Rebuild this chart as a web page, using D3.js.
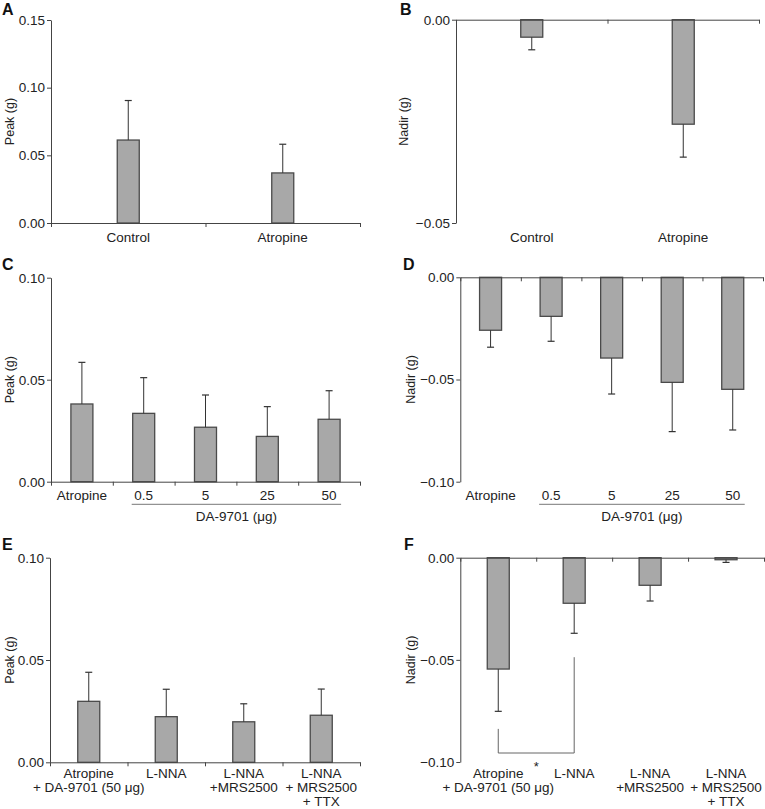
<!DOCTYPE html>
<html>
<head>
<meta charset="utf-8">
<script src="https://cdn.jsdelivr.net/npm/d3@7/dist/d3.min.js"></script>
<style>
  body { margin: 0; background: #fff; }
  svg { display: block; font-family: "Liberation Sans", Arial, sans-serif; }
</style>
</head>
<body>
<svg id="chart" width="765" height="809"></svg>
<script>
// ---- data ----
var catsAB = ['Control', 'Atropine'];
var peakA = [0.0613, 0.0370];
var semA = [0.0292, 0.0212];
var nadirB = [-0.0043, -0.0257];
var semB = [0.0031, 0.0081];

var catsCD = ['Atropine', '0.5', '5', '25', '50'];
var peakC = [0.0381, 0.0335, 0.0267, 0.0222, 0.0306];
var semC = [0.0204, 0.0175, 0.0158, 0.0146, 0.0140];
var nadirD = [-0.0259, -0.0191, -0.0395, -0.0514, -0.0548];
var semD = [0.0083, 0.0122, 0.0176, 0.0241, 0.0199];
var groupCD = 'DA-9701 (\u03bcg)';

var catsEF = [
    ['Atropine', '+ DA-9701 (50 \u03bcg)'],
    ['L-NNA'],
    ['L-NNA', '+MRS2500'],
    ['L-NNA', '+ MRS2500', '+ TTX']
];
var peakE = [0.0298, 0.0223, 0.0198, 0.0230];
var semE = [0.0142, 0.0134, 0.0088, 0.0128];
var nadirF = [-0.0545, -0.0223, -0.0135, -0.0010];
var semF = [0.0207, 0.0147, 0.0077, 0.0013];
// significance bracket in F: left end, base, right end (g)
var bracketF = [-0.0838, -0.0956, -0.0487];

var ticksPeakA = [0, 0.05, 0.10, 0.15];
var ticksNadirB = [0, -0.05];
var ticksPeak = [0, 0.05, 0.10];
var ticksNadir = [0, -0.05, -0.10];

// ---- panel layout ----
var panels = [
    { letter: 'A', lx: 2, ly: 14.5, x0: 51, x1: 360, yTop: 20, yBot: 223, dom: [0, 0.15], ticks: ticksPeakA,
      cats: catsAB, vals: peakA, sem: semA, ylab: 'Peak (g)', ylx: 14, labY: 242 },
    { letter: 'B', lx: 400, ly: 14.5, x0: 456, x1: 759, yTop: 19.7, yBot: 223, dom: [-0.05, 0], ticks: ticksNadirB,
      cats: catsAB, vals: nadirB, sem: semB, ylab: 'Nadir (g)', ylx: 408, labY: 242 },
    { letter: 'C', lx: 2, ly: 270, x0: 51, x1: 360, yTop: 277.7, yBot: 481.7, dom: [0, 0.10], ticks: ticksPeak,
      cats: catsCD, vals: peakC, sem: semC, ylab: 'Peak (g)', ylx: 14, labY: 500, group: true },
    { letter: 'D', lx: 403, ly: 270, x0: 460.3, x1: 763, yTop: 277.3, yBot: 481.7, dom: [-0.10, 0], ticks: ticksNadir,
      cats: catsCD, vals: nadirD, sem: semD, ylab: 'Nadir (g)', ylx: 415, labY: 500, group: true },
    { letter: 'E', lx: 2, ly: 550, x0: 50, x1: 360, yTop: 557.7, yBot: 762.3, dom: [0, 0.10], ticks: ticksPeak,
      cats: catsEF, vals: peakE, sem: semE, ylab: 'Peak (g)', ylx: 14, labY: 777.5 },
    { letter: 'F', lx: 404, ly: 550, x0: 460.3, x1: 764, yTop: 557.7, yBot: 762, dom: [-0.10, 0], ticks: ticksNadir,
      cats: catsEF, vals: nadirF, sem: semF, ylab: 'Nadir (g)', ylx: 415, labY: 777.5, bracket: bracketF }
];

var svg = d3.select('#chart');
var barW = 22;
var axisColor = '#444';
var fontSize = '13.5px';

panels.forEach(function(p) {
    var g = svg.append('g');
    var n = p.cats.length;

    var y = d3.scaleLinear().domain(p.dom).range([p.yBot, p.yTop]);
    var x = d3.scaleBand().domain(d3.range(n)).range([p.x0, p.x1]).padding(0);
    var xEdge = d3.scaleLinear().domain([0, n]).range([p.x0, p.x1]);
    var cx = function(i) { return x(i) + x.bandwidth() / 2; };

    // bars
    g.selectAll('rect.bar')
        .data(p.vals)
        .enter().append('rect')
        .attr('class', 'bar')
        .attr('x', function(d, i) { return cx(i) - barW / 2; })
        .attr('y', function(d) { return Math.min(y(d), y(0)); })
        .attr('width', barW)
        .attr('height', function(d) { return Math.abs(y(d) - y(0)); })
        .attr('fill', '#a8a8a8')
        .attr('stroke', '#4a4a4a')
        .attr('stroke-width', 1.3);

    // error bars (one-sided, away from zero)
    var errEnd = function(d, i) { return d >= 0 ? d + p.sem[i] : d - p.sem[i]; };
    g.selectAll('line.err')
        .data(p.vals)
        .enter().append('line')
        .attr('x1', function(d, i) { return cx(i); })
        .attr('x2', function(d, i) { return cx(i); })
        .attr('y1', function(d) { return y(d); })
        .attr('y2', function(d, i) { return y(errEnd(d, i)); })
        .attr('stroke', '#333').attr('stroke-width', 1);
    g.selectAll('line.cap')
        .data(p.vals)
        .enter().append('line')
        .attr('x1', function(d, i) { return cx(i) - 3.5; })
        .attr('x2', function(d, i) { return cx(i) + 3.5; })
        .attr('y1', function(d, i) { return y(errEnd(d, i)); })
        .attr('y2', function(d, i) { return y(errEnd(d, i)); })
        .attr('stroke', '#333').attr('stroke-width', 1.2);

    // x axis at zero, ticks at band boundaries
    var xAxis = g.append('g')
        .attr('transform', 'translate(0,' + y(0) + ')')
        .call(d3.axisBottom(xEdge).tickValues(d3.range(n + 1)).tickSize(4).tickSizeOuter(0).tickFormat(''));
    xAxis.select('.domain').attr('stroke', axisColor);
    xAxis.selectAll('.tick line').attr('stroke', axisColor);

    // y axis
    var yAxis = g.append('g')
        .attr('transform', 'translate(' + p.x0 + ',0)')
        .call(d3.axisLeft(y).tickValues(p.ticks).tickSize(4).tickSizeOuter(0).tickPadding(2).tickFormat(d3.format('.2f')));
    yAxis.select('.domain').attr('stroke', axisColor);
    yAxis.selectAll('.tick line').attr('stroke', axisColor);
    yAxis.selectAll('.tick text')
        .attr('font-size', fontSize)
        .attr('fill', '#222')
        .attr('font-family', '"Liberation Sans", Arial, sans-serif');

    // y label
    g.append('text')
        .attr('transform', 'translate(' + p.ylx + ',' + ((p.yTop + p.yBot) / 2) + ') rotate(-90)')
        .attr('text-anchor', 'middle')
        .attr('font-size', '12.5px')
        .attr('fill', '#222')
        .text(p.ylab);

    // category labels
    p.cats.forEach(function(c, i) {
        var lines = Array.isArray(c) ? c : [c];
        var t = g.append('text')
            .attr('text-anchor', 'middle')
            .attr('font-size', fontSize)
            .attr('fill', '#222');
        lines.forEach(function(line, j) {
            t.append('tspan')
                .attr('x', cx(i))
                .attr('y', p.labY + j * 14.3)
                .text(line);
        });
    });

    // group underline for the DA-9701 doses
    if (p.group) {
        g.append('line')
            .attr('x1', cx(1) - 12).attr('x2', cx(n - 1) + 12)
            .attr('y1', 504.3).attr('y2', 504.3)
            .attr('stroke', '#777').attr('stroke-width', 1);
        g.append('text')
            .attr('x', (cx(1) + cx(n - 1)) / 2)
            .attr('y', 521)
            .attr('text-anchor', 'middle')
            .attr('font-size', fontSize)
            .attr('fill', '#222')
            .text(groupCD);
    }

    // significance bracket
    if (p.bracket) {
        var b = p.bracket;
        g.append('path')
            .attr('d', 'M' + cx(0) + ',' + y(b[0]) + 'V' + y(b[1]) + 'H' + cx(1) + 'V' + y(b[2]))
            .attr('fill', 'none')
            .attr('stroke', '#666')
            .attr('stroke-width', 1);
        g.append('text')
            .attr('x', (cx(0) + cx(1)) / 2)
            .attr('y', 770.5)
            .attr('text-anchor', 'middle')
            .attr('font-size', '13px')
            .attr('fill', '#222')
            .text('*');
    }

    // panel letter
    g.append('text')
        .attr('x', p.lx)
        .attr('y', p.ly)
        .attr('font-size', '16px')
        .attr('font-weight', 'bold')
        .attr('fill', '#111')
        .text(p.letter);
});
</script>
</body>
</html>
